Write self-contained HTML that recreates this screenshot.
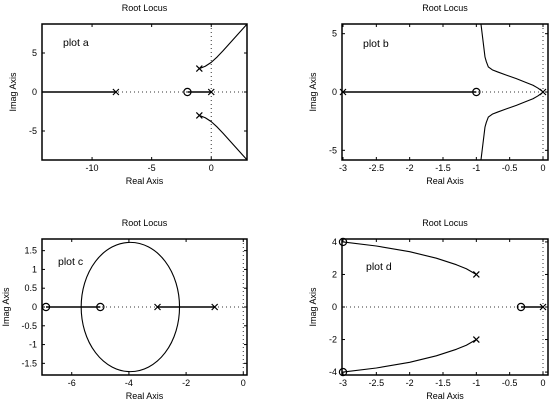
<!DOCTYPE html>
<html><head><meta charset="utf-8"><style>
body{margin:0;background:#fff}
svg{display:block;font-family:"Liberation Sans",sans-serif}
</style></head><body>
<svg id="fig" width="555" height="404" viewBox="0 0 555 404"></svg>
<script>
// plot a data
const aPoles=[[-8,0],[0,0],[-1,3],[-1,-3]];
const aZeros=[[-2,0]];
const aBranchUpX=[-1,-0.5,0,0.5,1,2,3];
const aBranchUpY=[3,3.3,3.8,4.5,5.3,7,8.7];
const aRealSegs=[[-14.2,-8],[-2,0]];
const aXTicks=[-10,-5,0];
const aYTicks=[-5,0,5];
// plot b data
const bPoles=[[-3,0],[0,0]];
const bZeros=[[-1,0]];
const bBranchUpX=[0,-0.03,-0.08,-0.15,-0.25,-0.4,-0.55,-0.68,-0.76,-0.82,-0.85,-0.87,-0.93];
const bBranchUpY=[0,0.15,0.35,0.58,0.8,1.15,1.45,1.72,1.9,2.15,2.6,3.0,5.8];
const bRealSegs=[[-3,-1]];
const bXTicks=[-3,-2.5,-2,-1.5,-1,-0.5,0];
const bYTicks=[-5,0,5];
// plot c data
const cPoles=[[-3,0],[-1,0]];
const cZeros=[[-6.9,0],[-5,0]];
const cCircle=[-3.95,0,1.72,1.72];
const cRealSegs=[[-6.9,-5],[-3,-1]];
const cXTicks=[-6,-4,-2,0];
const cYTicks=[-1.5,-1,-0.5,0,0.5,1,1.5];
// plot d data
const dPoles=[[-1,2],[-1,-2],[0,0]];
const dZeros=[[-3,4],[-3,-4],[-0.33,0]];
const dBranchUpX=[-1,-1.15,-1.3,-1.6,-2,-2.5,-3];
const dBranchUpY=[2,2.35,2.6,3.0,3.4,3.75,4];
const dRealSegs=[[-0.33,0]];
const dXTicks=[-3,-2.5,-2,-1.5,-1,-0.5,0];
const dYTicks=[-4,-2,0,2,4];

const NS="http://www.w3.org/2000/svg";
const svg=document.getElementById('fig');
function mk(tag,attrs,parent,text){const e=document.createElementNS(NS,tag);for(const k in attrs)e.setAttribute(k,attrs[k]);if(text!==undefined)e.textContent=text;(parent||svg).appendChild(e);return e;}

function plot(cfg){
  const g=mk('g',{});
  
  
  const [L,T,R,B]=cfg.box,[x0,x1]=cfg.xl,[y0,y1]=cfg.yl;
  const sx=v=>L+(v-x0)/(x1-x0)*(R-L), sy=v=>B-(v-y0)/(y1-y0)*(B-T);
  const zx=mk('line',{x1:sx(0),x2:sx(0),y1:T,y2:B,stroke:'#333','stroke-width':1,'stroke-dasharray':'1,3'},g);
  
  
  const zy=mk('line',{x1:L,x2:R,y1:sy(0),y2:sy(0),stroke:'#333','stroke-width':1,'stroke-dasharray':'1,3'},g);
  
  
  cfg.segs.forEach(s=>{const l=mk('line',{x1:sx(s[0]),x2:sx(s[1]),y1:sy(0),y2:sy(0),stroke:'#000','stroke-width':1.6},g);
    
    });
  if(cfg.bx){[1,-1].forEach(sg=>{const p=cfg.bx.map((x,i)=>sx(x)+','+sy(sg*cfg.by[i])).join(' ');
    const pl=mk('polyline',{points:p,fill:'none',stroke:'#000','stroke-width':1.1,'stroke-linejoin':'round'},g);
    
    });}
  if(cfg.circ){const c=cfg.circ;const el=mk('ellipse',{cx:sx(c[0]),cy:sy(c[1]),rx:Math.abs(sx(c[0]+c[2])-sx(c[0])),ry:Math.abs(sy(c[3])-sy(0)),fill:'none',stroke:'#000','stroke-width':1.1},g);
    
    }
  const fr=mk('rect',{x:L,y:T,width:R-L,height:B-T,fill:'none',stroke:'#000','stroke-width':1.5},g);
  
  
  cfg.xt.forEach(v=>{const x=sx(v);mk('line',{x1:x,x2:x,y1:B,y2:B-3,stroke:'#000'},g);mk('line',{x1:x,x2:x,y1:T,y2:T+3,stroke:'#000'},g);
    const t=mk('text',{x:x,y:B+11,'font-size':9,'text-anchor':'middle'},g,String(v));
    
    });
  cfg.yt.forEach(v=>{const y=sy(v);mk('line',{x1:L,x2:L+3,y1:y,y2:y,stroke:'#000'},g);mk('line',{x1:R,x2:R-3,y1:y,y2:y,stroke:'#000'},g);
    const t=mk('text',{x:L-5,y:y+3,'font-size':9,'text-anchor':'end'},g,String(v));
    
    });
  cfg.poles.forEach(p=>{const x=sx(p[0]),y=sy(p[1]);const pth=mk('path',{d:`M${x-3},${y-3}L${x+3},${y+3}M${x-3},${y+3}L${x+3},${y-3}`,stroke:'#000','stroke-width':1.2},g);
    
    });
  cfg.zeros.forEach(p=>{const c=mk('circle',{cx:sx(p[0]),cy:sy(p[1]),r:3.6,fill:'none',stroke:'#000','stroke-width':1.2},g);
    
    });
  const tt=mk('text',{x:(L+R)/2,y:T-13,'font-size':9,'text-anchor':'middle'},g,'Root Locus');
  
  
  const xa=mk('text',{x:(L+R)/2,y:B+24,'font-size':9,'text-anchor':'middle'},g,'Real Axis');
  
  
  const ya=mk('text',{x:0,y:0,'font-size':9,'text-anchor':'middle',transform:`translate(${cfg.yax},${(T+B)/2}) rotate(-90)`},g,'Imag Axis');
  
  
  const pl=mk('text',{x:cfg.lab[0],y:cfg.lab[1],'font-size':10.5},g,cfg.label);
  
  
}
plot({name:'plot-a',box:[42,24,247,160],xl:[-14.2,3],yl:[-8.72,8.72],segs:aRealSegs,bx:aBranchUpX,by:aBranchUpY,xt:aXTicks,yt:aYTicks,poles:aPoles,zeros:aZeros,yax:16,lab:[63,46],label:'plot a'});
plot({name:'plot-b',box:[342,24,548,160],xl:[-3.015,0.075],yl:[-5.83,5.83],segs:bRealSegs,bx:bBranchUpX,by:bBranchUpY,xt:bXTicks,yt:bYTicks,poles:bPoles,zeros:bZeros,yax:316,lab:[363,47],label:'plot b'});
plot({name:'plot-c',box:[42,239,247,375],xl:[-7.04,0.13],yl:[-1.81,1.81],segs:cRealSegs,circ:cCircle,xt:cXTicks,yt:cYTicks,poles:cPoles,zeros:cZeros,yax:9,lab:[58,265],label:'plot c'});
plot({name:'plot-d',box:[342,239,548,375],xl:[-3.015,0.075],yl:[-4.18,4.18],segs:dRealSegs,bx:dBranchUpX,by:dBranchUpY,xt:dXTicks,yt:dYTicks,poles:dPoles,zeros:dZeros,yax:316,lab:[366,270],label:'plot d'});
</script>
</body></html>
